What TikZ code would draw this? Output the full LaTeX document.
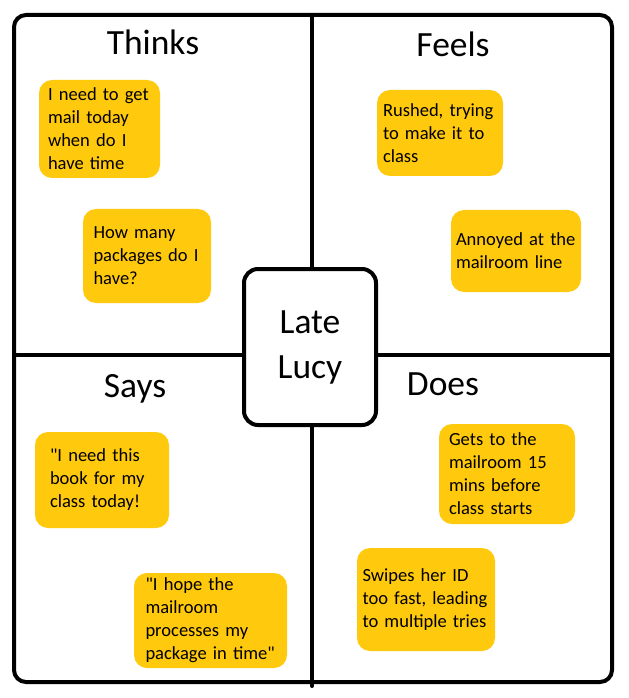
\documentclass[tikz,border=0pt]{standalone}
\usepackage{fontspec}
\setmainfont{Carlito}[Ligatures=TeXOff]
\definecolor{notegold}{RGB}{255,201,14}

\tikzset{every picture/.style={line width=0.75pt},
	frame/.style={line width=3pt, line cap=round},
	heading/.style={font=\fontsize{26.6pt}{33.75pt}\selectfont, inner sep=0.75pt},
	note/.style={fill=notegold, rounded corners=9.75pt, align=left, inner ysep=0pt, font=\fontsize{13.9pt}{17.25pt}\selectfont},
	centerbox/.style={draw, line width=3pt, fill=white, rounded corners=10.5pt, align=center, minimum width=99pt, minimum height=117pt, inner sep=0pt, heading}
}

\begin{document}
\begin{tikzpicture}[x=0.75pt,y=0.75pt,yscale=-1,xscale=1]
		\useasboundingbox (0,0) rectangle (628,698); %set diagram to the size of the screenshot
		
		%Rounded Rect frame and quadrant lines
		\draw [frame, rounded corners=9pt]  (14,15) rectangle (612,682) ;
		\draw [frame]  (312,15) -- (312,686) ;
		\draw [frame]  (14,355) -- (612,355) ;
		
		%Center box
		\draw (310,347) node [centerbox] (lucy) {Late\\Lucy};
		
		%Headings
		\draw (153,55) node [anchor=base][heading] (thinks) {Thinks};
		\draw (453,57) node [anchor=base][heading] (feels) {Feels};
		\draw (135,397) node [anchor=base][heading] (says) {Says};
		\draw (443,395) node [anchor=base][heading] (does) {Does};
		
		%Sticky notes - thinks
		\draw (99.5,129) node [note, text width=77.25pt, inner xsep=6.75pt, minimum height=73.5pt] (think1) {I need to get\\mail today\\when do I\\have time};
		\draw (147,256) node [note, text width=80.25pt, inner xsep=7.875pt, minimum height=70.5pt] (think2) {How many\\packages do I\\have?};
		%Sticky notes - feels
		\draw (440,133) node [note, text width=85.5pt, inner xsep=4.5pt, minimum height=64.5pt] (feel1) {Rushed, trying\\to make it to\\class};
		\draw (516,251) node [note, text width=90pt, inner xsep=3.75pt, minimum height=61.5pt] (feel2) {Annoyed at the\\mailroom line};
		%Sticky notes - says
		\draw (102,480) node [note, text width=78pt, inner xsep=11.25pt, minimum height=72pt] (say1) {"I need this\\book for my\\class today!};
		\draw (210.5,620.5) node [note, text width=97.5pt, inner xsep=8.625pt, minimum height=71.25pt] (say2) {"I hope the\\mailroom\\processes my\\package in time"};
		%Sticky notes - does
		\draw (507,474) node [note, text width=87pt, inner xsep=7.5pt, minimum height=75pt] (do1) {Gets to the\\mailroom 15\\mins before\\class starts};
		\draw (426,599.5) node [note, text width=95.25pt, inner xsep=4.125pt, minimum height=77.25pt] (do2) {Swipes her ID\\too fast, leading\\to multiple tries};
		
	\end{tikzpicture}
\end{document}
